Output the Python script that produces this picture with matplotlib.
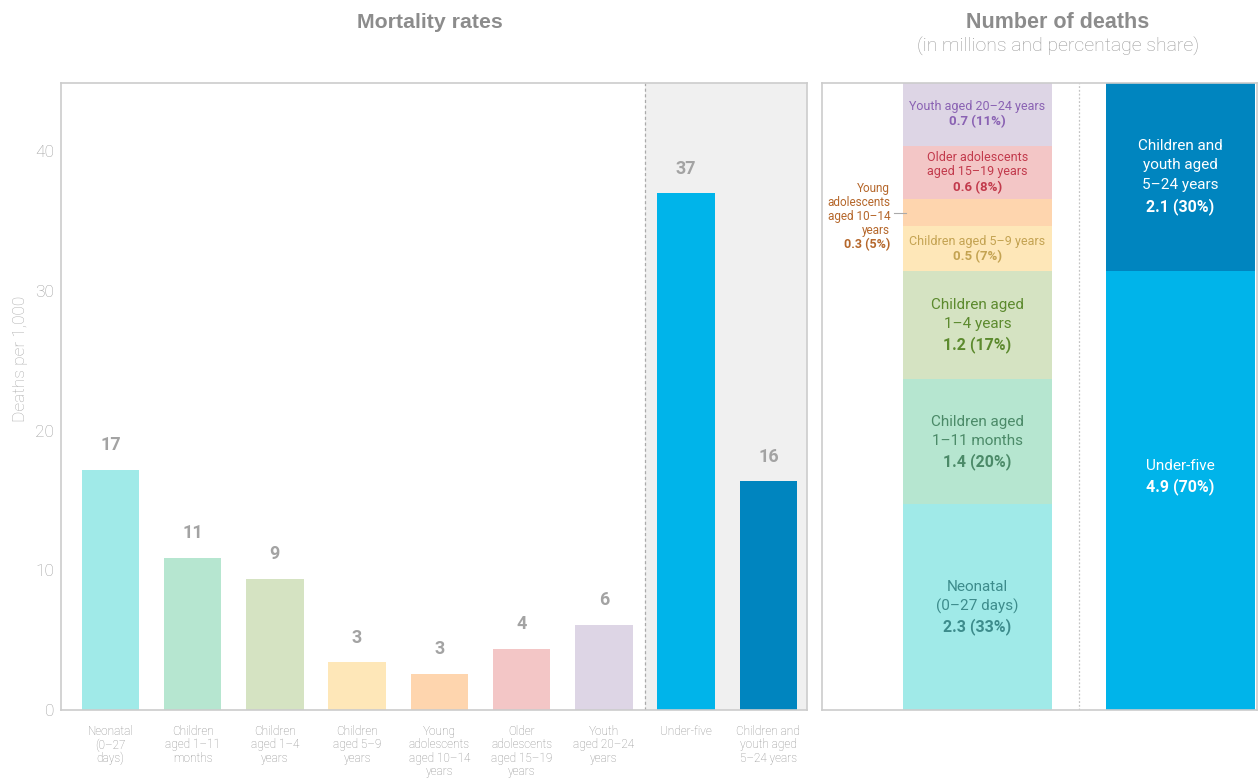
import numpy as np
import matplotlib
matplotlib.use("Agg")
import matplotlib.pyplot as plt

plt.rcParams['font.family'] = ['Roboto', 'DejaVu Sans']

# --- data -------------------------------------------------------------
rate_labels = ["Neonatal\n(0\u201327\ndays)", "Children\naged 1\u201311\nmonths",
               "Children\naged 1\u20134\nyears", "Children\naged 5\u20139\nyears",
               "Young\nadolescents\naged 10\u201314\nyears",
               "Older\nadolescents\naged 15\u201319\nyears",
               "Youth\naged 20\u201324\nyears", "Under-five",
               "Children and\nyouth aged\n5\u201324 years"]
rate_values = [17.2, 10.9, 9.4, 3.4, 2.6, 4.4, 6.1, 37.0, 16.4]
rate_text = ["17", "11", "9", "3", "3", "4", "6", "37", "16"]
rate_colors = ["#a0eae8", "#b6e6d0", "#d5e3c2", "#fee7b8", "#fed5ae",
               "#f3c6c6", "#ddd5e5", "#00b4ea", "#0085bf"]

seg_names = ["Neonatal\n(0\u201327 days)", "Children aged\n1\u201311 months",
             "Children aged\n1\u20134 years", "Children aged 5\u20139 years",
             "Young\nadolescents\naged 10\u201314\nyears",
             "Older adolescents\naged 15\u201319 years", "Youth aged 20\u201324 years"]
seg_values = [2.3, 1.4, 1.2, 0.5, 0.3, 0.6, 0.7]
seg_share = ["33%", "20%", "17%", "7%", "5%", "8%", "11%"]
seg_text_colors = ["#3d8c8c", "#4b8a68", "#5c8a2e", "#c4a352", "#b5672b",
                   "#c23a4c", "#8a62b3"]
seg_sizes = [11, 11, 11, 9, 9, 9, 9]

group_names = ["Under-five", "Children and\nyouth aged\n5\u201324 years"]
group_values = [4.9, 2.1]
group_share = ["70%", "30%"]
group_colors = ["#00b4ea", "#0085bf"]

W, H = 1259, 779
fig = plt.figure(figsize=(W / 100, H / 100), dpi=100)
grey_frame = "#cccccc"

def px_axes(x0, y0, x1, y1):
    return fig.add_axes([x0 / W, 1 - y1 / H, (x1 - x0) / W, (y1 - y0) / H])

# --- left panel: mortality rates ---------------------------------------
ax = px_axes(61, 83, 807, 710)
x = np.arange(len(rate_values))
ax.set_xlim(-0.6, 8.47)
ax.set_ylim(0, 44.87)
ax.axvspan(6.5, 8.47, color="#f0f0f0", lw=0, zorder=0)
ax.axvline(6.5, color="#aaaaaa", lw=0.9, ls=(0, (2.5, 2)), zorder=1)
ax.bar(x, rate_values, width=0.7, color=rate_colors, zorder=2)
for xi, v, t in zip(x, rate_values, rate_text):
    ax.annotate(t, (xi, v), xytext=(0, 11), textcoords="offset points",
                ha="center", va="bottom", fontsize=13, fontweight="bold",
                color="#a3a3a3")
ax.set_yticks([0, 10, 20, 30, 40])
ax.set_xticks(x)
ax.set_xticklabels(rate_labels, fontsize=8.5, color="#8c8c8c",
                   fontweight="light", linespacing=1.02, va="top")
ax.tick_params(axis="x", length=0, pad=11)
ax.tick_params(axis="y", length=0, pad=5, labelsize=12.5,
               labelcolor="#9e9e9e")
for lab in ax.get_yticklabels():
    lab.set_fontweight("light")
for s in ax.spines.values():
    s.set_color(grey_frame)
    s.set_linewidth(1.2)
ax.set_ylabel("Deaths per 1,000", fontsize=12.5, color="#aaaaaa",
              fontweight="light")
ax.yaxis.set_label_coords(-0.044, 0.56)

fig.text(430 / W, 1 - 23 / H, "Mortality rates", ha="center", va="center",
         fontsize=15.3, fontweight="bold", color="#8c8c8c",
         family=["Liberation Sans", "DejaVu Sans"])

# --- right panel: number of deaths ------------------------------------
ax2 = px_axes(822, 83, 1257, 710)
ax2.set_xlim(-0.766, 1.377)
ax2.set_ylim(0, sum(seg_values))
ax2.axvline(0.5, color="#c4c4c4", lw=0.9, ls=(0, (1.5, 1.5)), zorder=1)
bottoms = np.concatenate([[0], np.cumsum(seg_values)[:-1]])
ax2.bar(np.zeros(len(seg_values)), seg_values, bottom=bottoms, width=0.734,
        color=rate_colors[:7], zorder=2)
gbottoms = np.concatenate([[0], np.cumsum(group_values)[:-1]])
ax2.bar(np.ones(len(group_values)), group_values, bottom=gbottoms,
        width=0.734, color=group_colors, zorder=2)
ax2.set_xticks([])
ax2.set_yticks([])
for s in ax2.spines.values():
    s.set_color(grey_frame)
    s.set_linewidth(1.2)


def block(axis, xpos, ycen, name, value, color, size, ha="center", dy=0,
          L=None, ls=1.1):
    # name lines above, bold value line below, block centred on ycen
    n = name.count("\n") + 1
    if L is None:
        L = size * 1.25
    axis.annotate(name, (xpos, ycen), xytext=(0, dy + L / 2),
                  textcoords="offset points", ha=ha, va="center",
                  fontsize=size, color=color, linespacing=ls,
                  multialignment=ha, zorder=4)
    axis.annotate(value, (xpos, ycen), xytext=(0, dy - n * L / 2),
                  textcoords="offset points", ha=ha, va="center",
                  fontsize=size + 0.5, fontweight="bold", color=color,
                  zorder=4)


for i, (nm, v, sh, c, sz) in enumerate(zip(seg_names, seg_values, seg_share,
                                           seg_text_colors, seg_sizes)):
    yc = bottoms[i] + v / 2
    lab = f"{v:.1f} ({sh})"
    if i == 4:
        # label sits outside the bar with a short leader line
        ax2.plot([-0.41, -0.35], [yc, yc], color="#aaaaaa", lw=0.8,
                 clip_on=False, zorder=3)
        block(ax2, -0.43, yc, nm, lab, c, 8.5, ha="right", dy=-2.5, L=10.2,
              ls=1.1)
    elif sz >= 11:
        block(ax2, 0, yc, nm, lab, c, sz, L=14.4, ls=1.466)
    else:
        block(ax2, 0, yc, nm, lab, c, sz, L=11.0, ls=1.1)

for i, (nm, v, sh) in enumerate(zip(group_names, group_values, group_share)):
    yc = gbottoms[i] + v / 2
    dy = 10.5 if i == 0 else 1
    block(ax2, 1, yc, nm, f"{v:.1f} ({sh})", "white", 11, dy=dy, L=14.8,
          ls=1.5)

fig.text(1058 / W, 1 - 23 / H, "Number of deaths", ha="center", va="center",
         fontsize=15.5, fontweight="bold", color="#8c8c8c",
         family=["Liberation Sans", "DejaVu Sans"])
fig.text(1058 / W, 1 - 47 / H, "(in millions and percentage share)",
         ha="center", va="center", fontsize=14, fontweight="light",
         color="#999999")

fig.savefig("out.png", dpi=100)
